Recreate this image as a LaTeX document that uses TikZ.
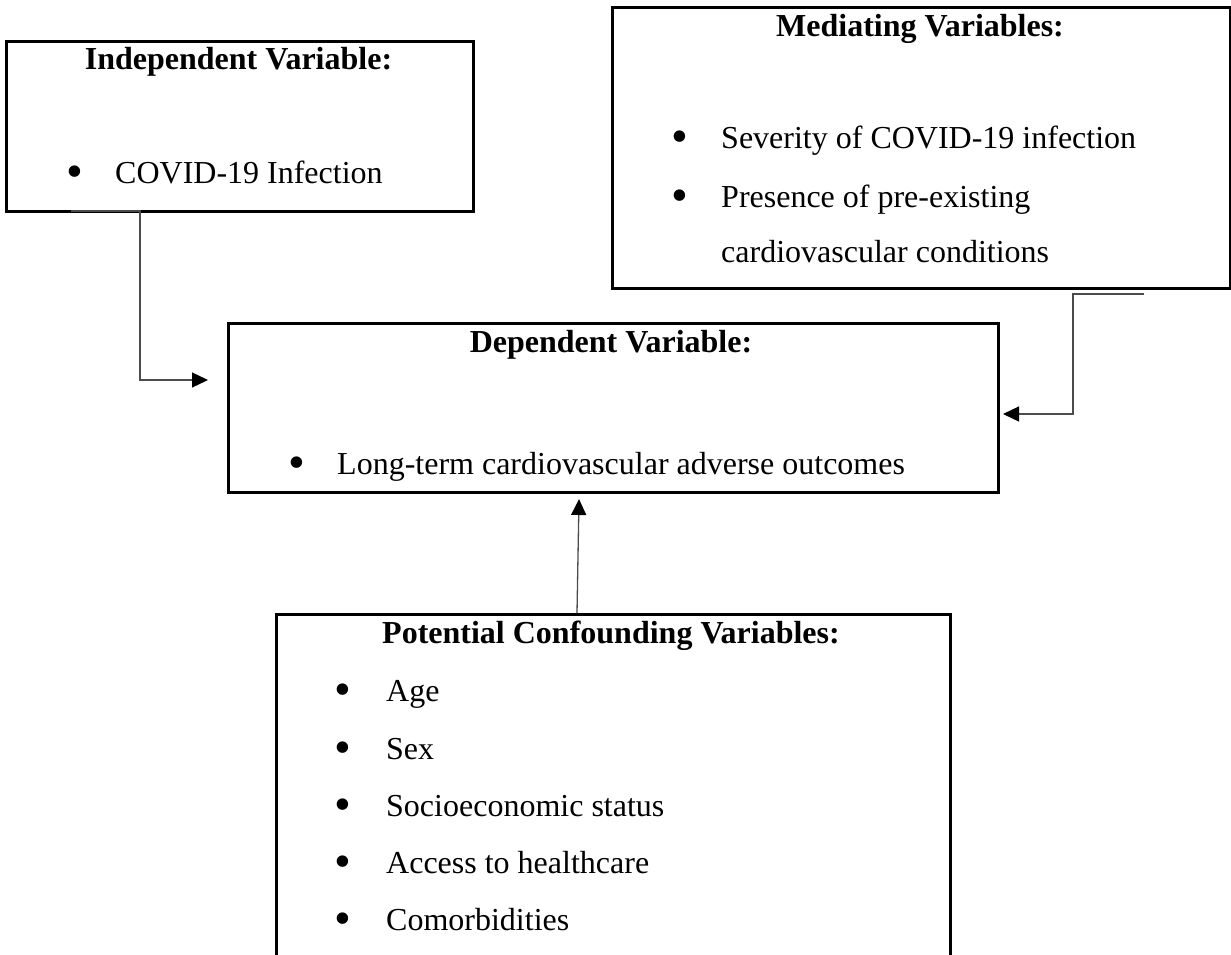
\documentclass[tikz,border=0pt]{standalone}
\usepackage{fontspec}
\setmainfont{Liberation Serif}
\usetikzlibrary{arrows.meta}
\begin{document}
\begin{tikzpicture}[x=1pt,y=-1pt,
  box/.style={draw=black,line width=2.6pt,inner sep=0pt,anchor=north west},
  ttl/.style={font=\fontsize{32}{38}\selectfont\bfseries,anchor=base,inner sep=0pt},
  itm/.style={font=\fontsize{32}{38}\selectfont,anchor=base west,inner sep=0pt},
  bul/.style={font=\fontsize{48}{48}\selectfont,anchor=base,inner sep=0pt},
  conn/.style={draw=black!70,line width=1.3pt,-{Triangle[length=16pt,width=15pt,color=black]}}]
\useasboundingbox (0,0) rectangle (1231,955);
\begin{scope}
\clip (0,0) rectangle (1231,955);
% boxes
\node[box,minimum width=467pt,minimum height=170pt] (ind) at (5,40) {};
\node[box,minimum width=618pt,minimum height=281pt] (med) at (611,6) {};
\node[box,minimum width=770pt,minimum height=169pt] (dep) at (227,322) {};
\node[box,minimum width=674pt,minimum height=400pt] (conf) at (275,613) {};
\end{scope}
% independent
\node[ttl] (indt) at (238.5,70) {Independent Variable:};
\node[bul] (indb1) at (75,187) {•};
\node[itm] (indi1) at (115,183) {COVID-19 Infection};
% mediating
\node[ttl] (medt) at (920,37) {Mediating Variables:};
\node[bul] (medb1) at (680,153) {•};
\node[itm] (medi1) at (721,149) {Severity of COVID-19 infection};
\node[bul] (medb2) at (680,211) {•};
\node[itm] (medi2) at (721,207) {Presence of pre-existing};
\node[itm] (medi3) at (721,262) {cardiovascular conditions};
% dependent
\node[ttl] (dept) at (611,352) {Dependent Variable:};
\node[bul] (depb1) at (297,478) {•};
\node[itm] (depi1) at (337,474) {Long-term cardiovascular adverse outcomes};
% confounding
\node[ttl] (conft) at (611,643) {Potential Confounding Variables:};
\node[bul] (confb1) at (343,705) {•};
\node[itm] (confi1) at (386,701) {Age};
\node[bul] (confb2) at (343,763) {•};
\node[itm] (confi2) at (386,759) {Sex};
\node[bul] (confb3) at (343,820) {•};
\node[itm] (confi3) at (386,816) {Socioeconomic status};
\node[bul] (confb4) at (343,877) {•};
\node[itm] (confi4) at (386,873) {Access to healthcare};
\node[bul] (confb5) at (343,934) {•};
\node[itm] (confi5) at (386,930) {Comorbidities};
% connectors
\coordinate (i1) at (71,211);
\coordinate (i2) at (208,380);
\draw[conn] (i1) -- (140,211) -- (140,380) -- (i2);
\coordinate (m1) at (1144,294);
\coordinate (m2) at (1003,414);
\draw[conn] (m1) -- (1073,294) -- (1073,414) -- (m2);
\coordinate (c1) at (577,613);
\coordinate (c2) at (579,499);
\draw[conn] (c1) -- (c2);
\end{tikzpicture}
\end{document}
